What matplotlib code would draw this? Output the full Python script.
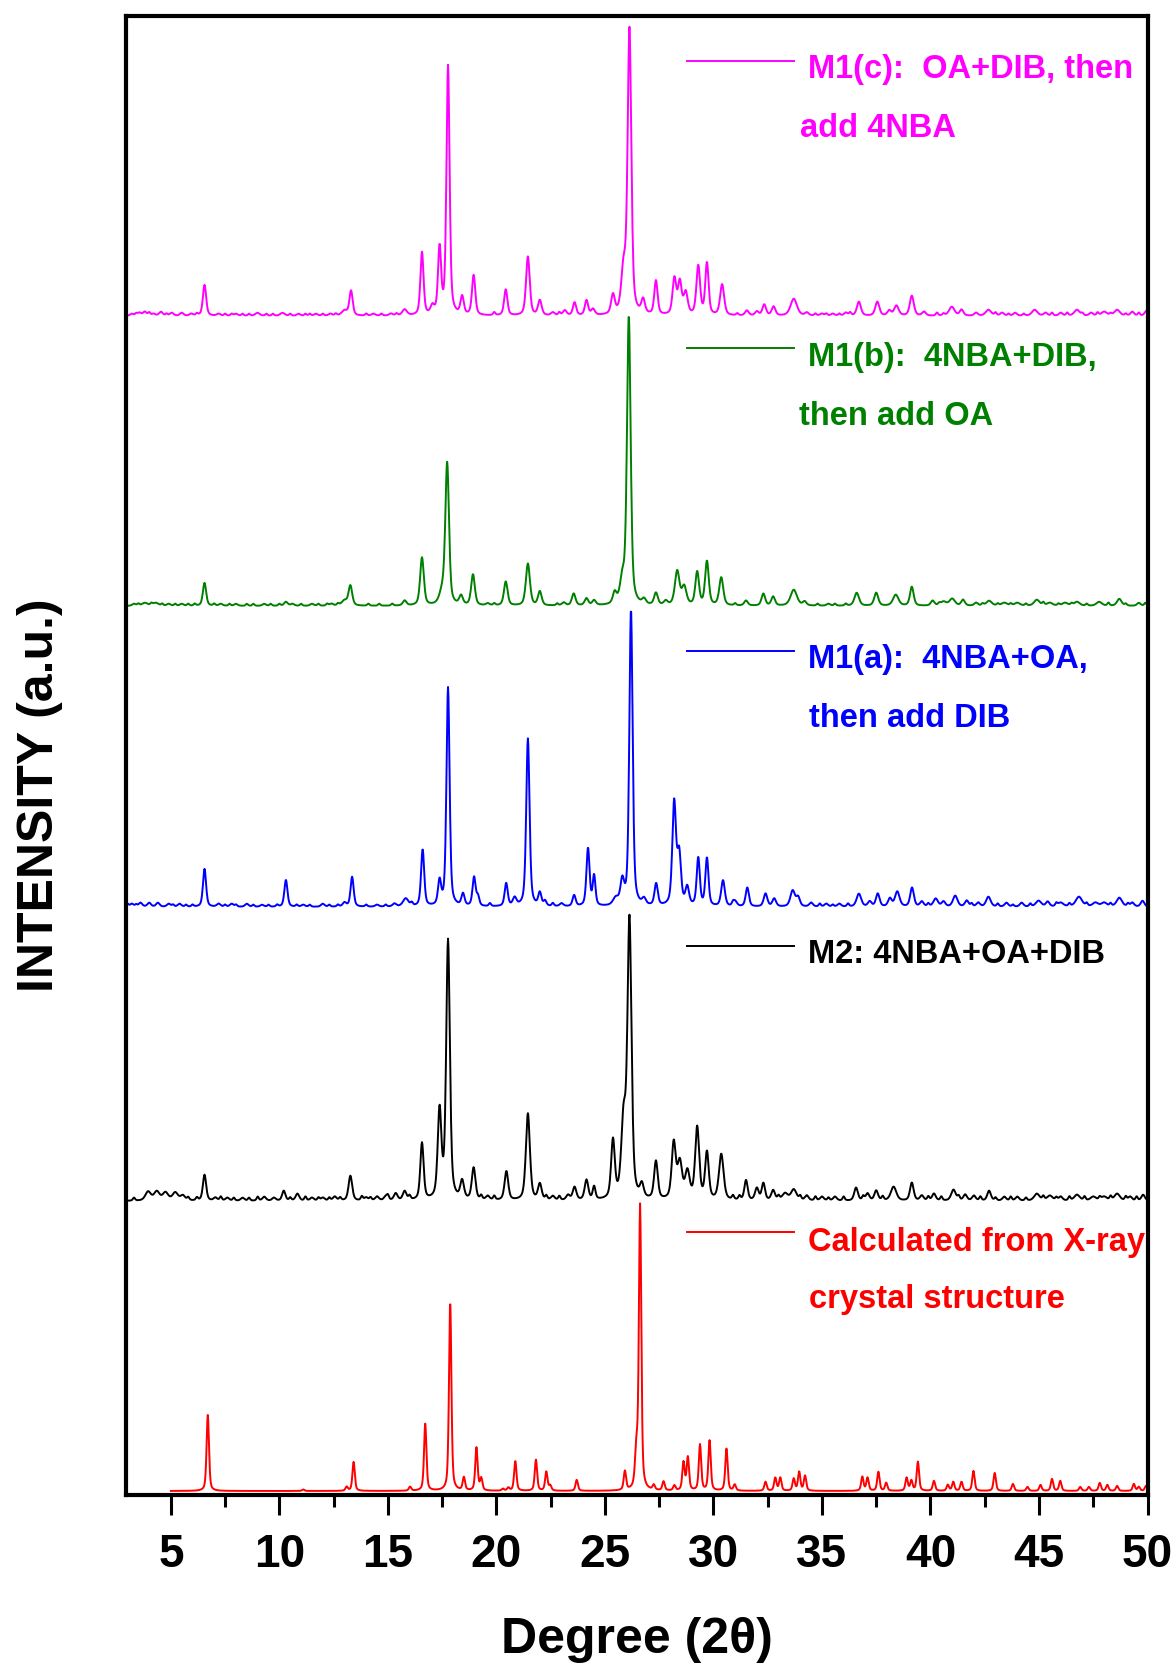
"""
plot.py - stacked PXRD patterns (M1(a-c), M2, calculated)
"""
import numpy as np
import matplotlib
matplotlib.use("Agg")
import matplotlib.pyplot as plt
import matplotlib.ticker as mticker

plt.rcParams["font.family"] = ["Liberation Sans", "DejaVu Sans"]
plt.rcParams["font.weight"] = "bold"

# ---- data: (2theta, height, fwhm) per peak, a.u. ----
calc_peaks = [
    (6.70, 76, .13), (11.1, 1.5, .13), (13.10, 4, .13), (13.42, 29, .13), (16.02, 4, .13),
    (16.72, 67, .13), (17.87, 190, .13), (18.50, 13, .13), (19.08, 43, .13), (19.30, 12, .13),
    (20.30, 2, .13), (20.55, 3, .13), (20.87, 30, .13), (21.82, 31, .13), (22.30, 19, .13),
    (22.48, 5, .13), (23.70, 11, .13), (25.92, 19, .13), (26.45, 36, .15), (26.62, 284, .13),
    (27.25, 5, .13), (27.70, 9, .13), (28.20, 5, .13), (28.62, 28, .13), (28.82, 33, .13),
    (29.38, 46, .13), (29.82, 50, .13), (30.60, 42, .13), (30.98, 6, .13), (32.40, 9, .13),
    (32.85, 13, .13), (33.08, 13, .13), (33.70, 12, .13), (33.95, 19, .13), (34.22, 15, .13),
    (36.86, 14, .13), (37.10, 13, .13), (37.60, 19, .13), (37.96, 8, .13), (38.90, 13, .13),
    (39.12, 10, .13), (39.42, 29, .13), (40.16, 10, .13), (40.80, 6, .13), (41.05, 9, .13),
    (41.43, 9, .13), (41.98, 20, .13), (42.96, 18, .13), (43.80, 7, .13), (44.47, 4, .13),
    (45.07, 6, .13), (45.60, 12, .13), (45.98, 10, .13), (46.90, 4, .13), (47.30, 4, .13),
    (47.80, 8, .13), (48.15, 6, .13), (48.60, 5, .13), (49.37, 7, .13), (49.60, 4, .13),
    (49.93, 5, .13),
]

m2_peaks = [
    (3.95, 9, .3), (4.35, 9, .3), (4.75, 8, .3), (5.20, 8, .3), (5.55, 5, .25),
    (6.55, 26, .18), (7.05, 3, .2), (7.60, 3, .2), (8.30, 3, .2), (9.30, 4, .2),
    (9.75, 3, .2), (10.20, 10, .18), (10.83, 7, .2), (11.50, 3, .2), (12.00, 3, .2),
    (12.55, 4, .2), (13.27, 25, .2), (14.00, 3, .2), (14.50, 4, .2), (14.90, 4, .2),
    (15.36, 7, .2), (15.77, 9, .2), (16.57, 57, .18), (17.38, 88, .2), (17.77, 259, .2),
    (18.42, 18, .2), (18.95, 32, .2), (19.60, 4, .2), (20.46, 29, .2), (21.45, 87, .22),
    (22.00, 16, .2), (22.60, 4, .2), (23.30, 5, .2), (23.60, 13, .2), (24.15, 20, .2),
    (24.50, 13, .15), (25.37, 58, .2), (25.86, 75, .25), (26.13, 277, .22), (26.70, 13, .2),
    (27.35, 38, .2), (28.17, 56, .22), (28.45, 36, .25), (28.80, 27, .25), (29.25, 72, .22),
    (29.70, 47, .2), (30.36, 46, .25), (31.50, 20, .18), (32.00, 12, .2), (32.30, 17, .18),
    (32.75, 10, .2), (33.30, 7, .3), (33.70, 11, .3), (34.30, 5, .2), (35.00, 4, .2),
    (35.60, 4, .2), (36.57, 13, .2), (37.10, 7, .2), (37.50, 10, .2), (38.30, 14, .3),
    (39.14, 18, .2), (39.60, 5, .2), (40.16, 7, .2), (41.06, 11, .25), (41.60, 6, .2),
    (42.00, 5, .2), (42.70, 10, .2), (43.40, 4, .2), (44.00, 4, .2), (44.90, 7, .3),
    (45.50, 5, .3), (46.00, 4, .2), (46.75, 6, .3), (47.50, 4, .3), (48.00, 4, .3),
    (48.60, 7, .3), (49.20, 4, .2), (49.80, 6, .2),
]

m1a_peaks = [
    (3.20, 3, .2), (3.60, 4, .2), (4.00, 4, .2), (4.40, 4, .2), (4.90, 3, .2),
    (5.40, 3, .2), (6.55, 38, .17), (7.20, 3, .2), (7.80, 3, .2), (8.50, 3, .2),
    (9.20, 2, .2), (10.30, 27, .17), (11.10, 2, .2), (12.00, 3, .2), (13.00, 4, .2),
    (13.35, 30, .17), (14.50, 2, .2), (15.30, 3, .2), (15.82, 8, .3), (16.60, 57, .17),
    (17.38, 24, .17), (17.77, 219, .17), (18.46, 12, .17), (18.97, 29, .17), (19.15, 9, .15),
    (20.45, 23, .17), (20.84, 8, .2), (21.45, 168, .18), (22.00, 13, .17), (22.24, 5, .15),
    (23.00, 3, .2), (23.58, 11, .17), (24.22, 58, .17), (24.50, 30, .15), (25.50, 7, .3),
    (25.80, 23, .2), (26.20, 297, .18), (26.80, 6, .2), (27.36, 22, .18), (28.19, 103, .2),
    (28.42, 50, .2), (28.79, 18, .2), (29.30, 48, .17), (29.70, 48, .17), (30.44, 26, .2),
    (31.00, 5, .2), (31.56, 19, .18), (32.40, 13, .2), (32.80, 8, .2), (33.65, 16, .25),
    (33.90, 9, .2), (34.50, 4, .2), (35.20, 3, .2), (35.80, 3, .2), (36.70, 13, .25),
    (37.20, 5, .2), (37.57, 13, .2), (38.13, 8, .2), (38.47, 15, .25), (39.15, 19, .2),
    (39.60, 5, .2), (40.24, 8, .25), (40.60, 5, .2), (41.14, 11, .25), (41.67, 6, .2),
    (42.20, 4, .2), (42.67, 10, .25), (43.50, 4, .2), (44.20, 4, .2), (44.98, 6, .3),
    (45.40, 5, .2), (46.00, 4, .3), (46.84, 10, .35), (47.60, 4, .3), (48.00, 4, .3),
    (48.70, 9, .3), (49.30, 4, .2), (49.77, 6, .2),
]

m1b_peaks = [
    (3.30, 2, .2), (3.80, 3, .3), (4.30, 3, .3), (4.90, 2, .2), (5.50, 2, .2),
    (6.55, 23, .18), (7.30, 2, .2), (8.00, 2, .2), (9.30, 2, .2), (10.30, 4, .2),
    (10.60, 2, .2), (11.50, 2, .2), (12.40, 2, .2), (13.00, 5, .3), (13.27, 20, .2),
    (15.77, 5, .2), (16.57, 48, .2), (17.50, 11, .3), (17.73, 141, .2), (18.37, 9, .2),
    (18.92, 31, .2), (19.60, 2, .2), (20.43, 24, .2), (21.45, 42, .22), (22.00, 14, .2),
    (23.10, 3, .2), (23.56, 12, .2), (24.15, 7, .2), (24.50, 5, .2), (25.45, 11, .2),
    (25.80, 22, .25), (26.10, 289, .2), (26.80, 5, .2), (27.35, 12, .2), (27.80, 4, .2),
    (28.33, 34, .25), (28.65, 18, .25), (29.25, 33, .2), (29.70, 44, .2), (30.36, 28, .22),
    (31.50, 5, .2), (32.30, 12, .2), (32.75, 9, .2), (33.70, 16, .35), (34.20, 4, .2),
    (35.30, 2, .2), (36.60, 13, .25), (37.50, 13, .22), (38.40, 11, .3), (39.14, 19, .2),
    (40.10, 5, .2), (40.60, 4, .3), (41.00, 7, .3), (41.50, 6, .2), (42.10, 3, .2),
    (42.70, 5, .3), (43.40, 3, .3), (44.00, 3, .3), (44.90, 6, .3), (45.50, 3, .3),
    (46.20, 3, .3), (46.75, 4, .3), (47.77, 4, .3), (48.70, 7, .25), (49.60, 3, .2),
]

m1c_peaks = [
    (3.20, 2, .2), (3.55, 3, .2), (3.80, 4, .2), (4.20, 2, .2), (4.54, 4, .2),
    (5.04, 3, .2), (5.50, 3, .2), (5.94, 2, .2), (6.55, 31, .18), (7.20, 2, .2),
    (8.00, 2, .2), (8.99, 3, .25), (10.14, 3, .25), (10.88, 2, .2), (11.68, 2, .2),
    (12.35, 2, .2), (13.00, 5, .3), (13.30, 25, .18), (14.33, 2, .2), (15.14, 2, .2),
    (15.77, 6, .25), (16.57, 63, .17), (17.05, 8, .2), (17.38, 66, .17), (17.77, 249, .17),
    (18.42, 18, .18), (18.95, 40, .18), (20.43, 26, .18), (21.45, 59, .2), (22.00, 15, .2),
    (22.60, 3, .2), (23.15, 5, .2), (23.60, 13, .18), (24.15, 15, .18), (24.45, 6, .2),
    (25.37, 19, .2), (25.86, 42, .25), (26.13, 284, .2), (26.76, 14, .2), (27.35, 34, .18),
    (28.20, 36, .2), (28.45, 32, .2), (28.72, 22, .22), (29.30, 49, .2), (29.70, 52, .18),
    (30.40, 31, .22), (31.54, 5, .2), (32.00, 4, .2), (32.34, 11, .2), (32.77, 9, .2),
    (33.70, 17, .35), (34.30, 3, .2), (35.00, 2, .2), (35.50, 2, .2), (36.10, 3, .2),
    (36.70, 14, .22), (37.55, 14, .22), (38.10, 5, .2), (38.43, 10, .25), (39.14, 20, .22),
    (39.70, 4, .2), (40.98, 9, .3), (41.43, 6, .2), (42.10, 3, .2), (42.67, 6, .3),
    (43.30, 3, .2), (43.90, 3, .2), (44.80, 6, .3), (45.30, 3, .2), (46.00, 3, .2),
    (46.75, 6, .3), (47.40, 3, .2), (48.00, 4, .3), (48.60, 6, .3), (49.30, 4, .2),
    (49.95, 5, .2),
]

# small counting-noise wiggles seen along the measured baselines (2theta, height)
m2_ripple = [
    (3.3, 3), (5.8, 3), (6.2, 3), (7.3, 4), (7.9, 3), (8.6, 3), (9.0, 4), (10.5, 3),
    (11.2, 4), (11.8, 3), (12.3, 3), (12.8, 3), (13.8, 4), (14.2, 3), (15.0, 4), (16.0, 4),
    (19.3, 4), (19.9, 4), (22.3, 4), (22.9, 4), (30.9, 4), (31.2, 4), (33.0, 4), (34.0, 4),
    (34.7, 4), (35.3, 3), (36.0, 4), (36.9, 4), (37.8, 4), (39.9, 4), (40.5, 4), (41.3, 4),
    (42.3, 4), (43.0, 3), (43.7, 4), (44.4, 3), (45.2, 4), (45.8, 3), (46.4, 4), (47.1, 4),
    (47.8, 3), (48.3, 4), (49.0, 4), (49.5, 4),
]
m1a_ripple = [
    (3.0, 3), (3.4, 2), (5.1, 2), (5.7, 2), (6.0, 2), (7.5, 2), (8.0, 2), (8.8, 2),
    (9.5, 2), (9.9, 2), (10.8, 2), (11.4, 2), (12.3, 2), (12.7, 2), (14.0, 2), (14.9, 2),
    (16.1, 3), (19.7, 3), (22.6, 3), (30.9, 3), (34.9, 3), (35.5, 2), (36.2, 3), (39.9, 3),
    (41.9, 3), (43.1, 3), (43.8, 2), (44.6, 3), (45.8, 3), (46.4, 3), (47.2, 3), (48.3, 3),
    (49.1, 3),
]
m1b_ripple = [
    (3.5, 2), (4.1, 2), (4.6, 2), (5.2, 2), (5.8, 2), (6.1, 2), (7.0, 2), (7.7, 2),
    (8.5, 2), (8.8, 2), (9.6, 2), (10.0, 2), (11.0, 2), (11.8, 2), (12.2, 2), (12.7, 2),
    (14.1, 2), (14.6, 2), (15.2, 2), (19.9, 2), (22.8, 2), (31.0, 2), (34.8, 2), (35.6, 2),
    (36.1, 2), (40.4, 2), (42.4, 2), (43.1, 2), (43.7, 2), (44.4, 2), (45.2, 3), (45.9, 2),
    (46.5, 2), (47.2, 2), (48.2, 3), (49.0, 2), (49.9, 3),
]
m1c_ripple = [
    (3.4, 2), (4.0, 3), (4.8, 2), (6.2, 2), (7.5, 2), (7.8, 2), (8.3, 2), (8.6, 2),
    (9.4, 2), (9.7, 2), (10.5, 2), (11.2, 2), (11.4, 2), (12.0, 2), (12.6, 2), (14.0, 2),
    (14.7, 2), (15.4, 2), (19.9, 3), (22.9, 3), (31.1, 2), (34.7, 2), (35.2, 2), (35.8, 2),
    (36.3, 3), (40.3, 3), (40.6, 2), (43.0, 3), (43.6, 2), (44.3, 2), (45.6, 3), (46.3, 3),
    (47.0, 2), (47.7, 3), (48.3, 2), (49.0, 2), (49.6, 3),
]

# vertical offsets of the stacked patterns (a.u.) and scan start (2theta)
offsets = [4, 294, 588, 889, 1179]
scan_start = [5.0, 2.93, 2.93, 2.93, 2.93]

labels = [
    ["Calculated from X-ray", "crystal structure"],
    ["M2: 4NBA+OA+DIB"],
    ["M1(a):  4NBA+OA,", "then add DIB"],
    ["M1(b):  4NBA+DIB,", "then add OA"],
    ["M1(c):  OA+DIB, then", "add 4NBA"],
]
colors = ["#ff0000", "#000000", "#0000ff", "#008000", "#ff00ff"]

# legend layout (axes fraction): line y, first text x/y, second text x/y
legend_pos = [
    (0.1778, (0.668, 0.1657), (0.669, 0.1271)),
    (0.3712, (0.668, 0.3604), None),
    (0.5707, (0.668, 0.5598), (0.669, 0.5199)),
    (0.7755, (0.668, 0.7640), (0.659, 0.7241)),
    (0.9696, (0.668, 0.9588), (0.660, 0.9189)),
]


def pattern(x, peaks, eta=0.5):
    """pseudo-Voigt sum of the listed reflections"""
    y = np.zeros_like(x)
    for pos, h, w in peaks:
        d = (x - pos) / w
        g = np.exp(-4 * np.log(2) * d ** 2)
        lor = 1.0 / (1.0 + 4 * d ** 2)
        y += h * (eta * lor + (1 - eta) * g)
    return y


ripple_w = 0.12
all_peaks = [
    calc_peaks,
    m2_peaks + [(p, h, ripple_w) for p, h in m2_ripple],
    m1a_peaks + [(p, h, ripple_w) for p, h in m1a_ripple],
    m1b_peaks + [(p, h, ripple_w) for p, h in m1b_ripple],
    m1c_peaks + [(p, h, ripple_w) for p, h in m1c_ripple],
]

fig = plt.figure(figsize=(11.75, 16.65), dpi=100)
ax = fig.add_axes([0.1072, 0.1015, 0.8694, 0.8883])

for peaks, off, x0, col in zip(all_peaks, offsets, scan_start, colors):
    x = np.arange(x0, 50.0001, 0.02)
    ax.plot(x, off + pattern(x, peaks), color=col, linewidth=1.4)

for (ly, t1, t2), lab, col in zip(legend_pos, labels, colors):
    ax.plot([0.549, 0.654], [ly, ly], color=col, linewidth=1.4,
            transform=ax.transAxes, clip_on=False)
    ax.text(t1[0], t1[1], lab[0], color=col, fontsize=23.5, fontweight="bold",
            transform=ax.transAxes, va="baseline", ha="left")
    if t2 is not None:
        ax.text(t2[0], t2[1], lab[1], color=col, fontsize=23.5, fontweight="bold",
                transform=ax.transAxes, va="baseline", ha="left")

ax.set_xlim(2.93, 50)
ax.set_ylim(0, 1479)
ax.xaxis.set_major_locator(mticker.MultipleLocator(5))
ax.xaxis.set_minor_locator(mticker.MultipleLocator(2.5))
ax.set_xticks(np.arange(5, 51, 5))
ax.set_yticks([])
ax.tick_params(axis="x", which="major", direction="out", length=14.5, width=2.2,
               labelsize=33, pad=12)
ax.tick_params(axis="x", which="minor", direction="out", length=8.5, width=2.2)
for lbl in ax.get_xticklabels():
    lbl.set_fontweight("bold")
for sp in ax.spines.values():
    sp.set_linewidth(3)

ax.set_xlabel("Degree (2θ)", fontsize=36, fontweight="bold")
ax.xaxis.set_label_coords(0.5, -0.082)
ax.set_ylabel("INTENSITY (a.u.)", fontsize=36, fontweight="bold")
ax.yaxis.set_label_coords(-0.0616, 0.474)

fig.savefig("out.png", dpi=100)
